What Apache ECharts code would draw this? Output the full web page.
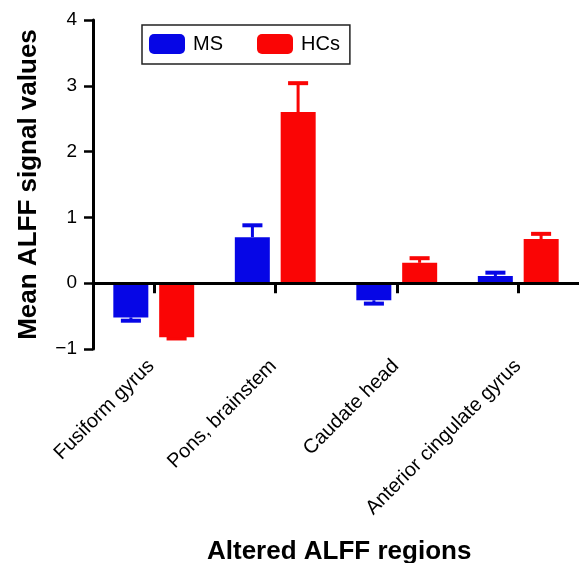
<!DOCTYPE html>
<html>
<head>
<meta charset="utf-8">
<script src="https://cdn.jsdelivr.net/npm/echarts@6/dist/echarts.min.js"></script>
<style>html,body{margin:0;padding:0;background:#fff}#c{width:579px;height:563px}</style>
</head>
<body>
<div id="c"></div>
<script>
var categories = ['Fusiform gyrus', 'Pons, brainstem', 'Caudate head', 'Anterior cingulate gyrus'];
var seriesNames = ['MS', 'HCs'];
var msMean = [-0.52, 0.70, -0.26, 0.11];
var msErr = [0.05, 0.18, 0.05, 0.05];
var hcMean = [-0.82, 2.60, 0.31, 0.67];
var hcErr = [0.02, 0.44, 0.07, 0.08];
var yTicks = [-1, 0, 1, 2, 3, 4];

var FONT = 'Liberation Sans, Arial, sans-serif';
var BLUE = '#0606e6';
var RED = '#fa0505';

var chart = echarts.init(document.getElementById('c'), null, {renderer: 'canvas'});

function errData(mean, err) {
  return mean.map(function (m, i) { return [i, m, err[i]]; });
}
function errRender(side) {
  return function (params, api) {
    var idx = api.value(0), m = api.value(1), e = api.value(2);
    var band = api.size([1, 0])[0];
    var off = side * band * 0.188;
    var p0 = api.coord([idx, m]);
    var p1 = api.coord([idx, m >= 0 ? m + e : m - e]);
    var x = p0[0] + off;
    var cap = band * 0.165;
    var col = api.visual('color');
    return {
      type: 'group',
      children: [
        {type: 'line', shape: {x1: x, y1: p0[1], x2: x, y2: p1[1]}, style: {stroke: col, lineWidth: 3}},
        {type: 'line', shape: {x1: x - cap / 2, y1: p1[1], x2: x + cap / 2, y2: p1[1]}, style: {stroke: col, lineWidth: 4}}
      ]
    };
  };
}

var option = {
  animation: false,
  textStyle: {fontFamily: FONT},
  legend: {
    data: seriesNames,
    left: 142, top: 25,
    orient: 'horizontal',
    padding: [9, 10, 10, 7],
    itemWidth: 36, itemHeight: 20, itemGap: 34,
    icon: 'roundRect',
    borderColor: '#222', borderWidth: 1.5,
    textStyle: {fontSize: 20, color: '#000', fontFamily: FONT, padding: [0, 0, 0, 3]}
  },
  grid: [
    {left: 93, right: -4, top: 20, bottom: 214},
    {left: 90, right: -1, top: 20, bottom: 214}
  ],
  xAxis: [
    {
      type: 'category', gridIndex: 0, data: categories,
      axisLine: {onZero: true, lineStyle: {color: '#000', width: 3}},
      axisTick: {show: true, alignWithLabel: true, interval: 0, length: 10, lineStyle: {color: '#000', width: 3}},
      axisLabel: {show: false, interval: 0},
      splitLine: {show: false},
      z: 5
    },
    {
      type: 'category', gridIndex: 1, data: categories, position: 'bottom',
      axisLine: {show: false, onZero: false},
      axisTick: {show: false},
      axisLabel: {show: true, rotate: 45, margin: 14, fontSize: 20, color: '#000', fontFamily: FONT, interval: 0},
      splitLine: {show: false}
    }
  ],
  yAxis: [
    {
      type: 'value', gridIndex: 0, min: -1, max: 4, interval: 1,
      name: 'Mean ALFF signal values', nameLocation: 'middle', nameRotate: 90, nameGap: 51,
      nameTextStyle: {fontSize: 26, fontWeight: 'bold', color: '#000', fontFamily: FONT},
      axisLine: {show: true, lineStyle: {color: '#000', width: 3}},
      axisTick: {show: true, length: 9, lineStyle: {color: '#000', width: 2.5}},
      axisLabel: {fontSize: 19, color: '#000', margin: 16, fontFamily: FONT,
        formatter: function (v) { return String(v).replace('-', '\u2212'); }},
      splitLine: {show: false}
    },
    {type: 'value', gridIndex: 1, min: -1, max: 4, interval: 1, show: false}
  ],
  graphic: [
    {type: 'text', left: 207, top: 539,
      style: {text: 'Altered ALFF regions', font: 'bold 26px ' + FONT, fill: '#000'}, silent: true}
  ],
  series: [
    {name: 'MS', type: 'bar', xAxisIndex: 0, yAxisIndex: 0, data: msMean, barWidth: 35, barGap: '31%',
      itemStyle: {color: BLUE}},
    {name: 'HCs', type: 'bar', xAxisIndex: 0, yAxisIndex: 0, data: hcMean, barWidth: 35, barGap: '31%',
      itemStyle: {color: RED}},
    {name: 'MS', type: 'custom', xAxisIndex: 0, yAxisIndex: 0, data: errData(msMean, msErr),
      renderItem: errRender(-1), itemStyle: {color: BLUE}, z: 1},
    {name: 'HCs', type: 'custom', xAxisIndex: 0, yAxisIndex: 0, data: errData(hcMean, hcErr),
      renderItem: errRender(1), itemStyle: {color: RED}, z: 1}
  ]
};
chart.setOption(option);
</script>
</body>
</html>
